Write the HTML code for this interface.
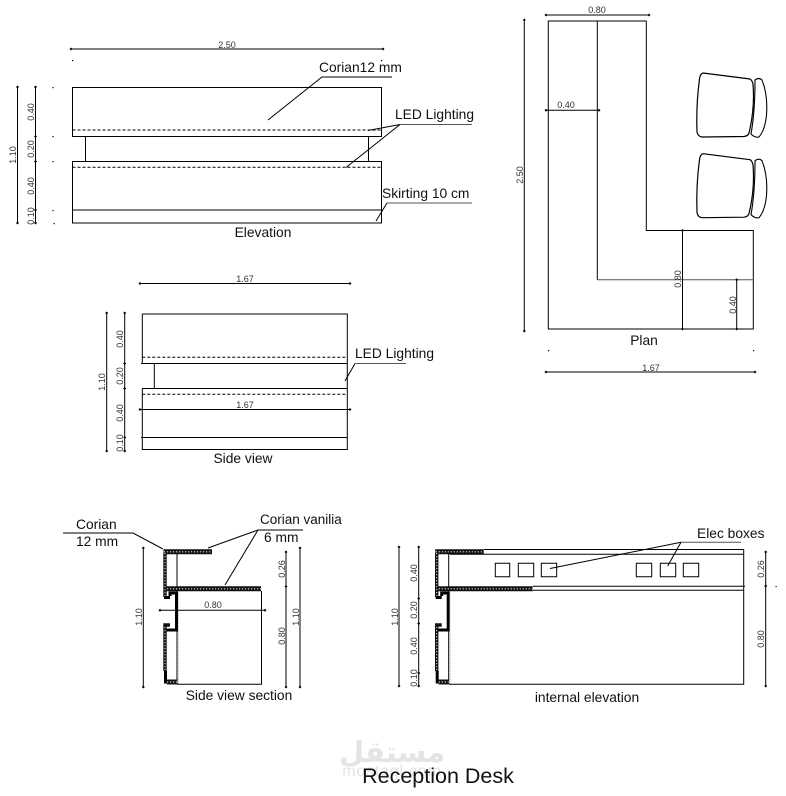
<!DOCTYPE html>
<html><head><meta charset="utf-8"><style>
html,body{margin:0;padding:0;background:#fff}
svg{display:block}
text{font-family:"Liberation Sans",Arial,sans-serif;fill:#111}
.l{font-size:13.8px}
.d{font-size:9px;fill:#333}
.s{stroke:#000;stroke-width:1;fill:none}
.g{stroke:#555;stroke-width:1;fill:none}
.da{stroke:#000;stroke-width:1;fill:none;stroke-dasharray:3 2}
.m{stroke:#000;stroke-width:1;fill:none;marker-start:url(#t);marker-mid:url(#t);marker-end:url(#t)}
.h1{stroke:#111;stroke-width:5;fill:none}
.h2{stroke:#ddd;stroke-width:1.2;fill:none;stroke-dasharray:1.2 1.8}
.w1{stroke:#111;stroke-width:3.4;fill:none}
.w2{stroke:#ddd;stroke-width:1;fill:none;stroke-dasharray:1.2 1.8}
</style></head><body>
<svg width="786" height="796" viewBox="0 0 786 796" xmlns="http://www.w3.org/2000/svg">
<defs>
<marker id="t" markerUnits="userSpaceOnUse" markerWidth="8" markerHeight="6" refX="4" refY="3" orient="auto"><path d="M2.500,3 L4,1.500 L5.500,3 L4,4.500Z" fill="#000"/></marker>
<g id="sec">
<path class="s" d="M177,554V684"/>
<path class="h1" d="M163.500,551.800H212"/><path class="h2" d="M164,551.800H212"/>
<path class="h1" d="M163.500,588.800H261"/><path class="h2" d="M164,588.800H261"/>
<path class="w1" d="M165,553V597"/><path class="w2" d="M165,553V597"/>
<path d="M164,597.500H170M170,596V593H176.500V630H166" stroke="#000" stroke-width="3" fill="none"/>
<path class="w1" d="M170,625H165V671"/><path class="w2" d="M165,627V670"/>
<path d="M165.500,671V682H168" stroke="#000" stroke-width="3" fill="none"/>
<path class="h1" d="M167,682H177"/><path class="h2" d="M167,682H177"/>
<path d="M178.500,591V684" stroke="#bbb" stroke-width="1" stroke-dasharray="1 1" fill="none"/>
</g>
<g id="chair">
<path d="M703,73 L750,79 Q752,80 753,84 Q755,108 749,133 Q748,136 744,136.500 L703,137 Q698,137 697,132 Q696,105 699.500,79 Q700,74 703,73Z" fill="#fff" stroke="#000" stroke-width="1.200"/>
<path d="M755,80 Q759,77 762,80 Q768,95 766.500,115 Q765,130 759,137 Q755,138 751,134 Q755,112 755,80Z" fill="#fff" stroke="#000" stroke-width="1.100"/>
</g>
</defs>
<rect width="786" height="796" fill="#fff"/>

<!-- Elevation -->
<path class="m" d="M71,49H383"/>
<text class="d" x="227" y="48" text-anchor="middle">2.50</text>
<path class="s" d="M72.500,87.500H381.500V136.500H72.500Z M72.500,161.500H381.500V223H72.500Z M72.500,210H381.500 M85.500,136.500V161.500 M368.500,136.500V161.500"/>
<path class="da" d="M72.500,130H381.500 M72.500,167.300H381.500"/>
<polyline class="m" points="17.500,87 17.500,223"/>
<polyline class="m" points="35.500,87 35.500,136.500 35.500,161.500 35.500,210 35.500,223"/>
<g fill="#000"><rect x="52.500" y="87" width="1.200" height="1.200"/><rect x="52.500" y="136" width="1.200" height="1.200"/><rect x="52.500" y="161" width="1.200" height="1.200"/><rect x="52.500" y="210" width="1.200" height="1.200"/><rect x="53.500" y="223" width="1.200" height="1.200"/><rect x="72" y="60" width="1.200" height="1.200"/><rect x="381" y="60" width="1.200" height="1.200"/></g>
<text class="d" transform="translate(16,155) rotate(-90)" text-anchor="middle">1.10</text>
<text class="d" transform="translate(34,112) rotate(-90)" text-anchor="middle">0.40</text>
<text class="d" transform="translate(34,149) rotate(-90)" text-anchor="middle">0.20</text>
<text class="d" transform="translate(34,186) rotate(-90)" text-anchor="middle">0.40</text>
<text class="d" transform="translate(34,216) rotate(-90)" text-anchor="middle">0.10</text>
<path class="s" d="M268,120 L322,77 H392"/>
<text class="l" x="319" y="72">Corian12 mm</text>
<path class="g" d="M472,124.500 H400"/><path class="s" d="M400,124.500 L368,130.500 M400,124.500 L346,167.500"/>
<text class="l" x="395" y="119">LED Lighting</text>
<path class="g" d="M472,203 H387"/><path class="s" d="M387,203 L376,221"/>
<text class="l" x="382" y="198">Skirting 10 cm</text>
<text class="l" x="263" y="237" text-anchor="middle">Elevation</text>

<!-- Side view -->
<path class="m" d="M140,283.500H350"/>
<text class="d" x="245" y="282" text-anchor="middle">1.67</text>
<path class="s" d="M142.300,314H347.300V449.500H142.300V388.500 M142.300,363.500V314 M141,363.500H347.300 M142.300,388.500H347.300 M141,437.500H347.300 M154.300,363.500V388.500"/>
<path class="da" d="M142.300,357.300H347.300 M142.300,394.300H347.300"/>
<path class="m" d="M140,409.500H350"/>
<text class="d" x="245" y="408" text-anchor="middle">1.67</text>
<polyline class="m" points="106.700,313 106.700,451"/>
<polyline class="m" points="124.700,313 124.700,363.500 124.700,388.500 124.700,437.500 124.700,451"/>
<text class="d" transform="translate(105,382) rotate(-90)" text-anchor="middle">1.10</text>
<text class="d" transform="translate(123,339) rotate(-90)" text-anchor="middle">0.40</text>
<text class="d" transform="translate(123,376) rotate(-90)" text-anchor="middle">0.20</text>
<text class="d" transform="translate(123,413) rotate(-90)" text-anchor="middle">0.40</text>
<text class="d" transform="translate(123,443) rotate(-90)" text-anchor="middle">0.10</text>
<path class="g" d="M406,363.500 H355"/><path class="s" d="M355,363.500 L345,381"/>
<text class="l" x="355" y="358">LED Lighting</text>
<text class="l" x="243" y="463" text-anchor="middle">Side view</text>

<!-- Plan -->
<path class="s" d="M548.300,21H646.300V230.500H753.300V329H548.300Z M597.300,21V279.700 M682.500,230.500V329"/>
<path class="g" d="M597.300,279.700H753.300"/>
<polyline class="m" points="546,15 649,15"/>
<text class="d" x="597" y="13" text-anchor="middle">0.80</text>
<polyline class="m" points="524.300,20 524.300,331"/>
<text class="d" transform="translate(523,175) rotate(-90)" text-anchor="middle">2.50</text>
<polyline class="m" points="546,110.300 599,110.300"/>
<text class="d" x="566" y="108" text-anchor="middle">0.40</text>
<polyline class="m" points="682.500,230.500 682.500,329"/>
<text class="d" transform="translate(681,279) rotate(-90)" text-anchor="middle">0.80</text>
<polyline class="m" points="736.700,279.700 736.700,329"/>
<text class="d" transform="translate(736,305) rotate(-90)" text-anchor="middle">0.40</text>
<polyline class="m" points="546,372 755,372"/>
<text class="d" x="651" y="371" text-anchor="middle">1.67</text>
<g fill="#000"><rect x="548" y="350" width="1.200" height="1.200"/><rect x="753" y="350" width="1.200" height="1.200"/></g>
<text class="l" x="644" y="345" text-anchor="middle">Plan</text>
<use href="#chair"/>
<use href="#chair" transform="translate(0,80.700)"/>

<!-- Section -->
<use href="#sec"/>
<path class="s" d="M261.500,591V684.300H177"/>
<polyline class="m" points="160,610.300 265,610.300"/>
<text class="d" x="213" y="608" text-anchor="middle">0.80</text>
<polyline class="m" points="143.300,548 143.300,687"/>
<polyline class="m" points="286,552 286,586.500 286,687"/>
<polyline class="m" points="300,548 300,687"/>
<text class="d" transform="translate(142,617) rotate(-90)" text-anchor="middle">1.10</text>
<text class="d" transform="translate(285,569) rotate(-90)" text-anchor="middle">0.26</text>
<text class="d" transform="translate(285,636) rotate(-90)" text-anchor="middle">0.80</text>
<text class="d" transform="translate(299,617) rotate(-90)" text-anchor="middle">1.10</text>
<path class="s" d="M63,533 H133 L163,549"/>
<text class="l" x="76" y="529">Corian</text>
<text class="l" x="76" y="546">12 mm</text>
<path class="s" d="M303,530 H258 L208,548 M258,530 L225,585"/>
<text x="260" y="524" style="font-size:13.500px">Corian vanilia</text>
<text class="l" x="264" y="542">6 mm</text>
<text class="l" x="239" y="700" text-anchor="middle">Side view section</text>

<!-- Internal elevation -->
<use href="#sec" transform="translate(271.700,0)"/>
<path class="s" d="M484,549.500H743.700V684.300H449 M450,554.300H743.700 M533,586.300H745 M533,590.300H743.700"/>
<path class="s" d="M495.300,563.300h14.400v13.400h-14.400z M518.300,563.300h15.400v13.400h-15.400z M541.300,563.300h15.400v13.400h-15.400z M636.300,563.300h15.400v13.400h-15.400z M660.300,563.300h15.400v13.400h-15.400z M683.300,563.300h15.400v13.400h-15.400z"/>
<polyline class="m" points="399,547 399,686"/>
<polyline class="m" points="418.700,547 418.700,598.500 418.700,623.500 418.700,673 418.700,686"/>
<polyline class="m" points="765.700,552 765.700,586 765.700,686"/>
<rect x="775.500" y="586" width="1.200" height="1.200" fill="#000"/>
<text class="d" transform="translate(398,617) rotate(-90)" text-anchor="middle">1.10</text>
<text class="d" transform="translate(417,573) rotate(-90)" text-anchor="middle">0.40</text>
<text class="d" transform="translate(417,610) rotate(-90)" text-anchor="middle">0.20</text>
<text class="d" transform="translate(417,646) rotate(-90)" text-anchor="middle">0.40</text>
<text class="d" transform="translate(417,678) rotate(-90)" text-anchor="middle">0.10</text>
<text class="d" transform="translate(764,569) rotate(-90)" text-anchor="middle">0.26</text>
<text class="d" transform="translate(764,639) rotate(-90)" text-anchor="middle">0.80</text>
<path class="g" d="M741,542.300 H681"/><path class="s" d="M681,542.300 L550,568.500 M681,542.300 L667.700,566"/>
<text class="l" x="697" y="538">Elec boxes</text>
<text class="l" x="587" y="702" text-anchor="middle">internal elevation</text>

<!-- Watermark and title -->
<text x="392" y="762" text-anchor="middle" style="font-family:'DejaVu Sans',sans-serif;font-weight:bold;font-size:29px;fill:#e4e4e4" direction="rtl">مستقل</text>
<text x="392" y="776" text-anchor="middle" style="font-size:16px;letter-spacing:0.800px;fill:#e4e4e4">mostaql.com</text>
<text x="438" y="783" text-anchor="middle" style="font-size:21.500px">Reception Desk</text>
</svg>
</body></html>
